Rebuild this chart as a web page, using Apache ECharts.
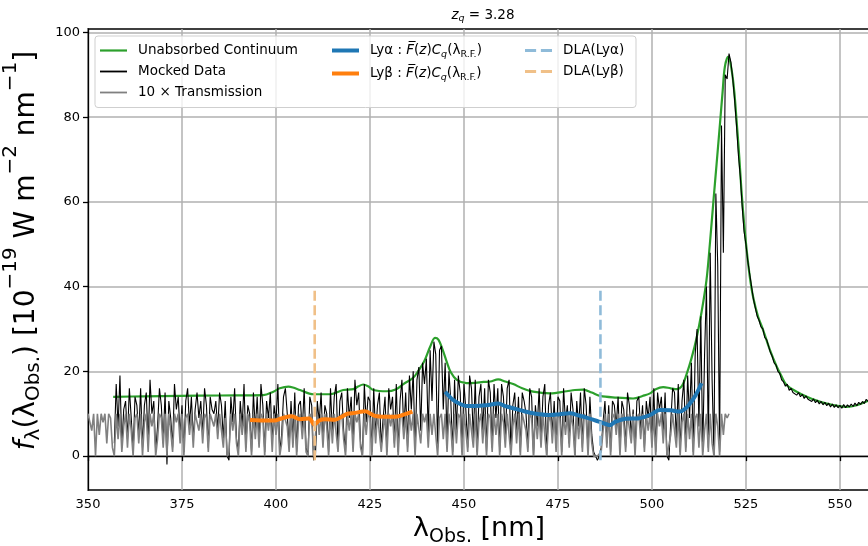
<!DOCTYPE html>
<html><head><meta charset="utf-8">
<script src="https://cdn.jsdelivr.net/npm/echarts@6/dist/echarts.min.js"></script>
<style>html,body{margin:0;padding:0;background:#fff}#c{width:868px;height:546px}</style>
</head><body><div id="c"></div>
<script>
// ---- data ----
const transStart = 350.0, transStep = 0.5;
const transmission10 = [
10,10,6,10,0,10,5,10,8,10, 3,10,9,2,0,10,4,10,1,7,
10,2,10,6,0,9,10,3,10,0, 8,10,1,10,7,10,0,4,10,9,
2,10,0,10,6,1,10,8,10,3, 10,0,9,10,5,10,2,10,10,6,
10,3,10,9,1,10,10,7,10,4, 10,10,2,9,0,1,10,6,10,3,
0,10,5,10,1,10,8,0,10,4, 10,2,10,9,0,10,6,10,1,10,
5,10,0,3,10,10,7,1,10,2, 10,0,8,10,4,10,1,0,10,9,
0,0,10,5,10,2,10,7,0,10, 3,10,10,1,9,10,4,0,10,6,
10,1,10,8,10,2,0,10,5,10, 9,0,10,3,10,10,1,6,10,0,
10,7,10,2,10,0,9,10,4,10, 1,10,6,10,0,10,10,3,10,8,
10,2,10,5,10,10,0,9,10,4, 10,1,10,7,0,10,3,10,9,0,
10,6,1,10,10,2,10,0,8,10, 3,10,0,10,9,1,10,5,10,0,
10,8,2,10,10,0,7,10,3,10, 0,10,10,6,1,10,9,0,10,4,
10,2,10,10,0,8,10,3,10,1, 10,9,0,10,5,10,2,10,7,0,
10,4,10,1,10,9,0,10,3,0, 0,0,0,1,6,10,2,10,0,9,
10,5,10,0,10,8,1,10,10,3, 10,0,9,10,4,10,1,10,6,10,
2,10,0,10,7,10,3,10,0,0, 5,10,10,2,10,0,8,10,1,10,
4,10,0,9,10,2,10,0,6,10, 1,10,3,0,10,7,0,10,5,10,
9,10];

const forestStart = 357.0, forestStep = 0.5;
const fluxForest = [
3,17,7,19,2,11,
13,4,16,9,1,14,12,5,16,2, 12,15,3,18,10,13,1,7,16,12,
3,15,-2,13,9,2,17,11,14,5, 12,1,13,16,7,14,4,11,15,9,
13,5,16,12,2,14,11,10,13,6, 15,12,4,13,0,-1,14,8,16,4,
1,13,7,17,2,12,10,1,15,6, 14,3,17,12,1,13,9,15,3,12,
8,17,1,5,14,16,10,2,13,4, 15,1,12,13,6,16,2,0,14,12,
-1,0,13,8,15,3,12,10,1,16, 5,14,17,2,13,15,6,1,16,9,
14,2,18,12,15,3,0,17,8,14, 13,1,16,5,12,15,2,9,14,1,
16,11,14,3,17,1,13,18,6,15, 2,19,11,20,1,18,21,6,22,17,
23,5,25,13,27,24,2,25,26,11, 22,3,20,13,1,18,6,19,15,1,
17,11,2,19,16,4,18,1,14,17, 6,16,1,18,15,2,17,9,16,1,
17,14,4,16,18,1,12,15,5,14, 1,15,13,10,2,16,14,0,12,7,
16,3,14,17,0,12,15,5,13,2, 14,13,1,16,8,12,3,15,11,0,
13,7,15,2,16,12,1,14,5,1, 0,-1,0,2,8,13,3,12,1,13,
12,7,14,1,13,11,2,15,12,5, 11,1,13,14,6,12,2,13,9,14,
3,16,1,15,11,14,5,15,0,-1, 8,16,15,4,17,1,13,18,2,19,
9,22,1,24,30,7,33,1,24,40, 2,48,18,0,62,45,1,78,48,90,
89,95];

const redStart = 521.0, redStep = 0.5;
const fluxRed = [
93,89,84,78,71,66,59,53,50,46, 43,40,37,35,33,32,30.5,30,28,27.5,
26,24.5,23.5,22,21.5,20,19.5,18,17.5,16.5, 17,15.5,16,15,15.3,14.4,15,14,14.6,13.6,
14.2,13.4,13.8,12.9,13.5,12.6,13.2,12.3,12.9,12.1, 12.7,11.9,12.5,11.6,12.3,11.5,12.1,11.4,12.0,11.3,
12.2,11.4,12.1,11.6,12.3,11.7,12.5,11.9,12.7,12.2, 12.9,12.4,13.4,12.9];

const contWave = [356.7,365,374.5,385,396.6,399.3,401,403.3,404.5,406.4,409.9,414.4,417.9,420.6,421.8,423.2,424.5,425.9,429.5,432,433.9,436.5,438,439.5,441,442.3,443.2,444.3,445.4,446.5,448.1,450.7,453,455.2,457,459.1,461,463.1,465.5,468.4,472.9,477.3,479.5,481.7,484,486.2,490.6,495,497.5,499.5,501,503,505,506.6,508,509.2,510.5,511.9,513.2,514.5,515.4,516.3,517.2,518.1,518.8,519.4,520.3,521.2,521.9,522.5,523.2,523.8,524.5,525.2,526,526.9,528.2,529.6,531.4,533.2,534.5,535.8,538.5,541.2,543.8,546.5,549,551.8,554.5,557.4,558.5];
const contFlux = [14.0,14.1,14.2,14.3,14.4,15.2,16.0,16.4,16.2,15.6,14.6,14.6,15.6,15.8,16.4,16.9,16.5,15.6,15.3,15.8,17.0,18.5,20.3,22.5,25.8,27.9,27.5,25.2,22.3,19.8,18.0,17.2,17.3,17.5,17.6,18.1,17.6,17.0,16.0,15.2,14.8,15.3,15.6,15.7,15.0,14.2,13.8,13.6,14.2,14.8,15.8,16.3,16.0,15.8,16.6,19.3,23.0,28.0,34.0,41.5,50.0,59.6,69.0,78.5,86.0,91.9,94.3,91.1,86.0,79.3,71.0,62.8,55.0,48.6,42.5,37.6,33.0,29.7,25.0,21.1,18.8,16.8,15.2,14.0,13.1,12.4,11.9,11.6,12.0,13.0,13.3];

const lyaWave = [445.0,446.0,447.2,449.0,450.7,453.0,456.0,459.1,461.0,463.1,466.0,468.4,472.9,475.5,478.2,480.5,482.6,485.0,487.0,488.8,490.2,493.0,496.3,499.5,502.1,505.0,507.4,509.0,510.1,511.5,513.2];
const lyaFlux = [15.2,14.2,13.2,12.3,11.8,11.8,12.0,12.4,11.8,11.3,10.6,10.1,9.7,9.9,10.1,9.6,9.1,8.4,7.8,7.3,8.1,8.8,8.9,9.7,10.9,10.8,10.5,11.3,12.4,14.2,17.2];

const lybWave = [393.1,396.0,399.5,401.8,404.2,406.4,408.8,410.2,411.5,413.0,415.7,417.5,419.0,421.0,423.7,426.3,429.0,431.6,434.0,436.3];
const lybFlux = [8.5,8.4,8.4,9.0,9.4,8.7,8.9,7.5,8.4,8.7,8.6,9.3,10.0,10.2,10.6,9.5,9.3,9.3,9.8,10.5];

const dlaLyaWave = 486.3, dlaLybWave = 410.3;
const dlaFlux = [-1, 40];

const xTicks = [350,375,400,425,450,475,500,525,550];
const yTicks = [0,20,40,60,80,100];

// ---- build series data ----
const grid = (start, step, vals) => vals.map((v, i) => [start + i * step, v]);
const zip = (xs, ys) => xs.map((x, i) => [x, ys[i]]);

const FF = 'DejaVu Sans';
const C = {green: '#2ca02c', black: '#000000', grey: '#808080', blue: '#1f77b4', orange: '#ff7f0e', dlaBlue: '#8fbbd9', dlaOrange: '#f0c088'};

const legendRich = {
  n: {fontFamily: FF, fontSize: 13.5, lineHeight: 18, color: '#000', verticalAlign: 'middle'},
  i: {fontFamily: FF, fontSize: 13.5, lineHeight: 18, color: '#000', fontStyle: 'italic', verticalAlign: 'middle'},
  si: {fontFamily: FF, fontSize: 9.5, color: '#000', fontStyle: 'italic', verticalAlign: 'bottom'},
  s: {fontFamily: FF, fontSize: 9.5, color: '#000', verticalAlign: 'bottom'}
};
const legendLabels = {
  'Unabsorbed Continuum': '{n|Unabsorbed Continuum}',
  'Mocked Data': '{n|Mocked Data}',
  '10 × Transmission': '{n|10 × Transmission}',
  'Lyα': '{n|Lyα : }{i|F̅}{n|(}{i|z}{n|)}{i|C}{si|q}{n|(λ}{s|R.F.}{n|)}',
  'Lyβ': '{n|Lyβ : }{i|F̅}{n|(}{i|z}{n|)}{i|C}{si|q}{n|(λ}{s|R.F.}{n|)}',
  'DLA(Lyα)': '{n|DLA(Lyα)}',
  'DLA(Lyβ)': '{n|DLA(Lyβ)}'
};
const solidIcon = (w) => 'path://M0,0h27v' + w + 'h-27z';
const dashIcon = 'path://M0,0h10.3v2.6h-10.3z M14.7,0h10.3v2.6h-10.3z';
function mkLegend(left, items) {
  return {
    orient: 'vertical', left: left, top: 43.5, padding: 0,
    itemWidth: 27, itemHeight: 14, itemGap: 7, selectedMode: false,
    data: items,
    formatter: (name) => legendLabels[name],
    textStyle: {fontFamily: FF, fontSize: 13.5, color: '#000', padding: [0, 0, 0, 6], rich: legendRich}
  };
}

const xRich = {
  n: {fontFamily: FF, fontSize: 27, lineHeight: 52, color: '#000', verticalAlign: 'middle'},
  sub: {fontFamily: FF, fontSize: 19, color: '#000', verticalAlign: 'bottom', padding: [0, 0, 9, 0]}
};
const yRich = {
  n: {fontFamily: FF, fontSize: 28, lineHeight: 52, color: '#000', verticalAlign: 'middle'},
  i: {fontFamily: FF, fontSize: 28, lineHeight: 52, color: '#000', fontStyle: 'italic', verticalAlign: 'middle'},
  sub: {fontFamily: FF, fontSize: 20, color: '#000', verticalAlign: 'bottom', padding: [0, 0, 8, 0]},
  sup: {fontFamily: FF, fontSize: 20, color: '#000', verticalAlign: 'top', padding: [1, 0, 0, 0]}
};

const chart = echarts.init(document.getElementById('c'), null, {renderer: 'canvas'});
chart.setOption({
  animation: false,
  backgroundColor: '#fff',
  title: {
    text: '{i|z}{s|q}{n| = 3.28}', left: 478, top: 0, textAlign: 'center',
    textStyle: {fontWeight: 'normal', rich: {
      i: {fontFamily: FF, fontSize: 13.5, fontWeight: 'normal', lineHeight: 20, fontStyle: 'italic', color: '#000', verticalAlign: 'middle'},
      s: {fontFamily: FF, fontSize: 9.5, fontWeight: 'normal', fontStyle: 'italic', color: '#000', verticalAlign: 'bottom', padding: [0, 0, 1, 0]},
      n: {fontFamily: FF, fontSize: 13.5, fontWeight: 'normal', lineHeight: 20, color: '#000', verticalAlign: 'middle'}
    }}
  },
  grid: {left: 88, right: -2, top: 29, bottom: 56, outerBoundsMode: 'none', containLabel: false,
         show: true, borderColor: '#000', borderWidth: 1.3, backgroundColor: 'transparent'},
  legend: [
    mkLegend(100, [
      {name: 'Unabsorbed Continuum', icon: solidIcon(2.2)},
      {name: 'Mocked Data', icon: solidIcon(1.8)},
      {name: '10 × Transmission', icon: solidIcon(1.8)}]),
    mkLegend(332, [
      {name: 'Lyα', icon: solidIcon(4)},
      {name: 'Lyβ', icon: solidIcon(4)}]),
    mkLegend(525, [
      {name: 'DLA(Lyα)', icon: dashIcon},
      {name: 'DLA(Lyβ)', icon: dashIcon}])
  ],
  graphic: [{
    type: 'rect', z: 3, silent: true,
    shape: {x: 95, y: 36, width: 541, height: 71.5, r: 3},
    style: {fill: 'rgba(255,255,255,0.8)', stroke: '#cfcfcf', lineWidth: 1}
  }],
  xAxis: {
    type: 'value', min: 350, max: 558,
    name: '{n|λ}{sub|Obs.}{n| [nm]}', nameLocation: 'middle', nameGap: 9,
    nameTextStyle: {rich: xRich},
    axisLine: {show: true, lineStyle: {color: '#000', width: 1.3}},
    axisTick: {show: true, length: 5, customValues: xTicks, lineStyle: {color: '#000', width: 1.3}},
    axisLabel: {customValues: xTicks, margin: 8, fontFamily: FF, fontSize: 13, color: '#000'},
    splitLine: {show: true, lineStyle: {color: '#b0b0b0', width: 1.5}}
  },
  yAxis: {
    type: 'value', min: -8, max: 100.8,
    name: '{i|f}{sub|λ}{n|(λ}{sub|Obs.}{n|) [10}{sup|−19}{n| W m}{sup|−2}{n| nm}{sup|−1}{n|]}',
    nameLocation: 'middle', nameRotate: 90, nameGap: 32,
    nameTextStyle: {rich: yRich, padding: [0, 0, 0, 18]},
    axisLine: {show: true, lineStyle: {color: '#000', width: 1.3}},
    axisTick: {show: true, length: 5, customValues: yTicks, lineStyle: {color: '#000', width: 1.3}},
    axisLabel: {customValues: yTicks, margin: 8, fontFamily: FF, fontSize: 13, color: '#000'},
    splitLine: {show: true, lineStyle: {color: '#b0b0b0', width: 1.5}}
  },
  series: [
    {name: 'Unabsorbed Continuum', type: 'line', symbol: 'none', smooth: 0.35,
     data: zip(contWave, contFlux), lineStyle: {color: C.green, width: 2.2}, itemStyle: {color: C.green}, z: 2},
    {name: 'Mocked Data', type: 'line', symbol: 'none',
     data: grid(forestStart, forestStep, fluxForest).concat(grid(redStart, redStep, fluxRed)),
     lineStyle: {color: C.black, width: 1.1}, itemStyle: {color: C.black}, z: 2},
    {name: '10 × Transmission', type: 'line', symbol: 'none',
     data: grid(transStart, transStep, transmission10),
     lineStyle: {color: C.grey, width: 1.6}, itemStyle: {color: C.grey}, z: 2},
    {name: 'Lyα', type: 'line', symbol: 'none', smooth: 0.35,
     data: zip(lyaWave, lyaFlux), lineStyle: {color: C.blue, width: 4}, itemStyle: {color: C.blue}, z: 2},
    {name: 'Lyβ', type: 'line', symbol: 'none', smooth: 0.35,
     data: zip(lybWave, lybFlux), lineStyle: {color: C.orange, width: 4}, itemStyle: {color: C.orange}, z: 2},
    {name: 'DLA(Lyα)', type: 'line', symbol: 'none',
     data: dlaFlux.map(v => [dlaLyaWave, v]),
     lineStyle: {color: C.dlaBlue, width: 2.6, type: [10, 4.5]}, itemStyle: {color: C.dlaBlue}, z: 2},
    {name: 'DLA(Lyβ)', type: 'line', symbol: 'none',
     data: dlaFlux.map(v => [dlaLybWave, v]),
     lineStyle: {color: C.dlaOrange, width: 2.6, type: [10, 4.5]}, itemStyle: {color: C.dlaOrange}, z: 2}
  ]
});
</script></body></html>
